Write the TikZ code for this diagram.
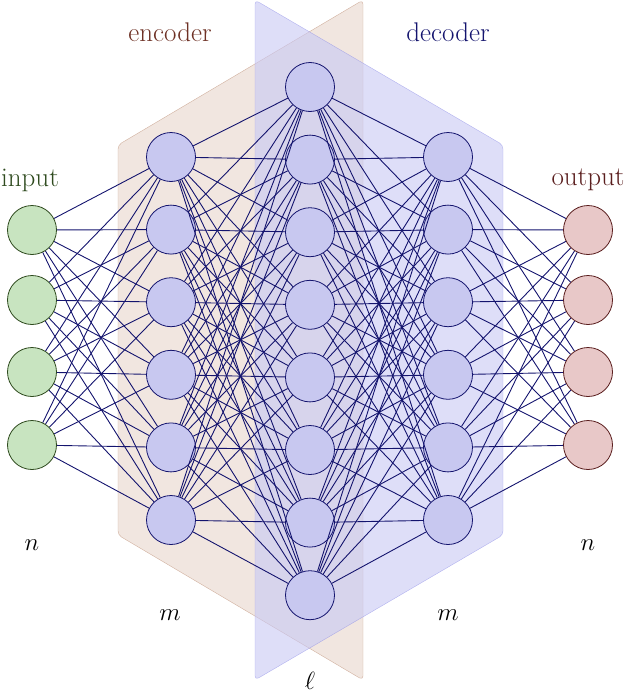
\documentclass[tikz,border=0pt]{standalone}
\definecolor{gfill}{HTML}{C8E4C0}
\definecolor{gdraw}{HTML}{2E4A1E}
\definecolor{bfill}{HTML}{C8C8F0}
\definecolor{bdraw}{HTML}{14146E}
\definecolor{rfill}{HTML}{E8C8C8}
\definecolor{rdraw}{HTML}{5A1E1E}
\definecolor{encf}{HTML}{EDE0D8}
\definecolor{encd}{HTML}{C8A08C}
\definecolor{decf}{HTML}{C8C8F4}
\definecolor{decd}{HTML}{8C8CE6}
\begin{document}
\begin{tikzpicture}[x=1pt,y=-1pt,
  neuron/.style={circle,minimum size=49pt,inner sep=0pt,line width=0.8pt},
  inp/.style={neuron,fill=gfill,draw=gdraw},
  hid/.style={neuron,fill=bfill,draw=bdraw},
  outp/.style={neuron,fill=rfill,draw=rdraw},
  conn/.style={draw=bdraw,line width=0.9pt},
  lab/.style={font=\fontsize{27}{32}\selectfont}]
\useasboundingbox (0,0) rectangle (626,696);
% planes
\fill[encf,draw=encd,opacity=0.8,rounded corners=4pt] (118,145) -- (363,0) -- (363,680) -- (118,535) -- cycle;
\fill[decf,draw=decd,opacity=0.6,rounded corners=4pt] (255,0) -- (503,145) -- (503,535) -- (255,680) -- cycle;
% nodes
\foreach \i/\y in {1/230,2/300,3/372,4/445} \node[inp] (I\i) at (32,\y) {};
\foreach \i/\y in {1/230,2/300,3/372,4/445} \node[outp] (O\i) at (588,\y) {};
\foreach \i in {1,...,6} \node[hid] (A\i) at (171,{157+(\i-1)*72.6}) {};
\foreach \i in {1,...,6} \node[hid] (B\i) at (448,{157+(\i-1)*72.6}) {};
\foreach \i in {1,...,8} \node[hid] (L\i) at (310,{87+(\i-1)*72.6}) {};
% connections
\foreach \i in {1,...,4} \foreach \j in {1,...,6} \draw[conn] (I\i) -- (A\j);
\foreach \i in {1,...,6} \foreach \j in {1,...,8} \draw[conn] (A\i) -- (L\j);
\foreach \i in {1,...,8} \foreach \j in {1,...,6} \draw[conn] (L\i) -- (B\j);
\foreach \i in {1,...,6} \foreach \j in {1,...,4} \draw[conn] (B\i) -- (O\j);
% labels
\node[lab,text=rdraw!80!brown] (tenc) at (170,32) {encoder};
\node[lab,text=bdraw] (tdec) at (448,32) {decoder};
\node[lab,text=gdraw] (tin) at (30,180) {input};
\node[lab,text=rdraw] (tout) at (588,180) {output};
\node[lab] (n1) at (32,545) {$n$};
\node[lab] (n2) at (588,545) {$n$};
\node[lab] (m1) at (170,615) {$m$};
\node[lab] (m2) at (448,615) {$m$};
\node[lab] (l) at (310,681) {$\ell$};
\end{tikzpicture}
\end{document}
